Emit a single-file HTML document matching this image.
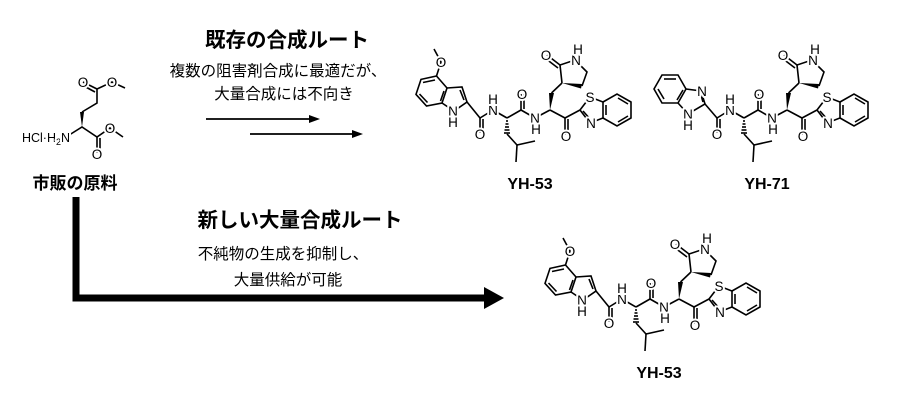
<!DOCTYPE html>
<html><head><meta charset="utf-8"><style>
html,body{margin:0;padding:0;background:#fff;}
svg{display:block;}
.t{font-family:"Liberation Sans","Noto Sans CJK JP",sans-serif;fill:#000;}
.a{font-family:"Liberation Sans",sans-serif;font-size:13.5px;fill:#000;text-anchor:middle;stroke:#fff;stroke-width:4px;paint-order:stroke;stroke-linejoin:round;}
.b line,.b polyline{stroke:#000;stroke-width:1.6;fill:none;}
</style></head><body>
<svg width="900" height="400" viewBox="0 0 900 400" xmlns="http://www.w3.org/2000/svg">
<defs>
<g id="right" class="b">
 <line x1="480" y1="118" x2="480" y2="133"/><line x1="483" y1="119" x2="483" y2="133"/>
 <line x1="480" y1="118" x2="493" y2="110"/><line x1="493" y1="110" x2="507" y2="118"/>
 <line x1="506" y1="121" x2="508" y2="121"/><line x1="505.5" y1="124" x2="508.5" y2="124"/><line x1="505" y1="127" x2="509" y2="127"/><line x1="504.5" y1="130" x2="509.5" y2="130"/><line x1="504" y1="133" x2="510" y2="133"/>
 <polyline points="507,134 517,145 535,141"/><line x1="517" y1="145" x2="516" y2="162"/>
 <line x1="507" y1="118" x2="521" y2="110"/><line x1="521" y1="110" x2="521" y2="94"/><line x1="524" y1="109" x2="524" y2="94"/>
 <line x1="521" y1="110" x2="535" y2="118"/><line x1="535" y1="118" x2="550" y2="110"/>
 <polygon points="550,110 549,93 554,93" fill="#000"/>
 <line x1="551.5" y1="93" x2="562" y2="83"/>
 <polygon points="562,83 582,84 581,88.5" fill="#000"/>
 <polyline points="562,83 560,65 575,60 587,72 582,86"/>
 <line x1="560" y1="65" x2="547" y2="55"/><line x1="558" y1="68" x2="545.5" y2="58.5"/>
 <line x1="550" y1="110" x2="565" y2="118"/><line x1="565" y1="118" x2="565" y2="135"/><line x1="568" y1="119" x2="568" y2="135"/>
 <line x1="565" y1="118" x2="580" y2="110"/>
 <polyline points="580,110 590,97 603,102 603,118 590,123 580,110"/>
 <line x1="583" y1="111" x2="591" y2="120"/>
 <polyline points="603,102 617,94 631,102 631,118 617,126 603,118"/>
 <line x1="618" y1="98" x2="628" y2="104"/><line x1="628" y1="116" x2="618" y2="122"/><line x1="606" y1="105" x2="606" y2="115"/>
</g>
<g id="indole" class="b">
 <polyline points="447,88 436.5,76 421,79.4 416,94.4 426.5,106 442,103 447,88"/>
 <line x1="423" y1="82.5" x2="435" y2="80"/><line x1="427.5" y1="102.5" x2="419.5" y2="94"/><line x1="444" y1="91" x2="440.5" y2="101"/>
 <polyline points="447,88 462,87 467,102 454,111 442,103"/>
 <line x1="460" y1="90" x2="464" y2="100"/>
 <line x1="467" y1="102" x2="480" y2="118"/>
 <polyline points="436.5,76 441,62 434,49"/>
</g>
</defs>

<!-- starting material -->
<g class="b">
 <line x1="97" y1="89" x2="83" y2="82"/><line x1="95" y1="92" x2="82" y2="85"/>
 <polyline points="125,88 112,82 97,89 97,103 82,112"/>
 <polygon points="82,127 80,112 84,112" fill="#000"/>
 <polyline points="66,137 82,127 97,137 110,128 123,137"/>
 <line x1="97" y1="137" x2="97" y2="153"/><line x1="100" y1="138" x2="100" y2="153"/>
</g>
<text class="a" x="83" y="87">O</text><text class="a" x="112" y="87">O</text>
<text class="a" x="110" y="133">O</text><text class="a" x="97" y="159">O</text>
<text class="a" x="46" y="142" style="font-size:12.5px">HCl·H<tspan font-size="9" dy="3">2</tspan><tspan dy="-3">N</tspan></text>
<text class="t" x="75" y="189" font-size="17" font-weight="bold" text-anchor="middle">市販の原料</text>

<!-- top text and arrows -->
<text class="t" x="287" y="47" font-size="20.5" font-weight="bold" text-anchor="middle">既存の合成ルート</text>
<text class="t" x="278" y="76" font-size="15.5" text-anchor="middle">複数の阻害剤合成に最適だが、</text>
<text class="t" x="284" y="99" font-size="15.5" text-anchor="middle">大量合成には不向き</text>
<line x1="206" y1="119" x2="312" y2="119" stroke="#000" stroke-width="1.8"/><polygon points="320,119 309,115 309,123" fill="#000"/>
<line x1="250" y1="134" x2="355" y2="134" stroke="#000" stroke-width="1.8"/><polygon points="363,134 352,130 352,138" fill="#000"/>

<!-- YH-53 top -->
<use href="#indole"/><use href="#right"/>
<g>
<text class="a" x="441" y="67">O</text><text class="a" x="453" y="116">N</text><text class="a" x="453" y="127">H</text>
<text class="a" x="480" y="139">O</text><text class="a" x="493" y="115">N</text><text class="a" x="493" y="104">H</text>
<text class="a" x="522" y="99">O</text><text class="a" x="535" y="123">N</text><text class="a" x="536" y="134">H</text>
<text class="a" x="546" y="60">O</text><text class="a" x="576" y="65">N</text><text class="a" x="578" y="54">H</text>
<text class="a" x="566" y="141">O</text><text class="a" x="590" y="102">S</text><text class="a" x="591" y="128">N</text>
</g>
<text class="t" x="530" y="189" font-size="16" font-weight="bold" text-anchor="middle">YH-53</text>

<!-- YH-71 -->
<g transform="translate(237,0)"><use href="#right"/>
<text class="a" x="480" y="139">O</text><text class="a" x="493" y="115">N</text><text class="a" x="493" y="104">H</text>
<text class="a" x="522" y="99">O</text><text class="a" x="535" y="123">N</text><text class="a" x="536" y="134">H</text>
<text class="a" x="546" y="60">O</text><text class="a" x="576" y="65">N</text><text class="a" x="578" y="54">H</text>
<text class="a" x="566" y="141">O</text><text class="a" x="590" y="102">S</text><text class="a" x="591" y="128">N</text>
</g>
<g class="b">
 <polyline points="686,89 678,75 662,75 654,89 662,103 678,103 686,89"/>
 <line x1="664" y1="79" x2="676" y2="79"/><line x1="658" y1="89" x2="664" y2="99"/><line x1="683" y1="90" x2="677" y2="100"/>
 <polyline points="686,89 701,91 705,104 688,114 678,103"/>
 <line x1="701" y1="95" x2="703" y2="102"/>
 <line x1="705" y1="104" x2="717" y2="118"/>
</g>
<text class="a" x="702" y="96">N</text><text class="a" x="688" y="119">N</text><text class="a" x="688" y="130">H</text>
<text class="t" x="767" y="189" font-size="16" font-weight="bold" text-anchor="middle">YH-71</text>

<!-- bottom route -->
<polyline points="76,197 76,298 487,298" stroke="#000" stroke-width="7" fill="none"/>
<polygon points="504,298 484,287 484,309" fill="#000"/>
<text class="t" x="300" y="227" font-size="20.5" font-weight="bold" text-anchor="middle">新しい大量合成ルート</text>
<text class="t" x="283" y="259" font-size="15.5" text-anchor="middle">不純物の生成を抑制し、</text>
<text class="t" x="288" y="285" font-size="15.5" text-anchor="middle">大量供給が可能</text>

<g transform="translate(129,189)">
<use href="#indole"/><use href="#right"/>
<text class="a" x="441" y="67">O</text><text class="a" x="453" y="116">N</text><text class="a" x="453" y="127">H</text>
<text class="a" x="480" y="139">O</text><text class="a" x="493" y="115">N</text><text class="a" x="493" y="104">H</text>
<text class="a" x="522" y="99">O</text><text class="a" x="535" y="123">N</text><text class="a" x="536" y="134">H</text>
<text class="a" x="546" y="60">O</text><text class="a" x="576" y="65">N</text><text class="a" x="578" y="54">H</text>
<text class="a" x="566" y="141">O</text><text class="a" x="590" y="102">S</text><text class="a" x="591" y="128">N</text>
<text class="t" x="530" y="189" font-size="16" font-weight="bold" text-anchor="middle">YH-53</text>
</g>
</svg>
</body></html>
